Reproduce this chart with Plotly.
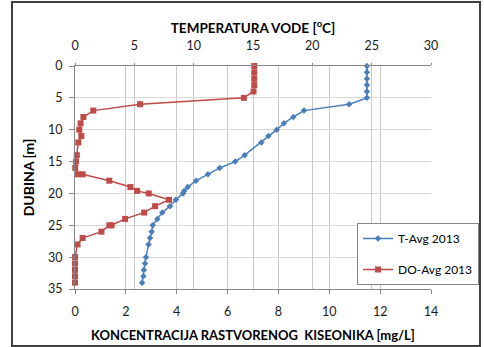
import plotly.graph_objects as go

# Temperature profile
t_depth = [0, 1, 2, 3, 4, 5, 6, 7, 8, 9, 10, 11, 12, 14, 15, 16, 17, 18, 19, 19.6, 20,
           21, 22, 23, 24, 25, 26, 27, 28, 30, 31, 32, 33, 34]
t_vals = [24.6, 24.6, 24.6, 24.6, 24.6, 24.6, 23.1, 19.3, 18.4, 17.6, 17.0, 16.3, 15.7, 14.3,
          13.5, 12.2, 11.2, 10.2, 9.5, 9.2, 9.1, 8.5, 8.0, 7.36, 6.94, 6.55, 6.46, 6.32, 6.2,
          5.98, 5.9, 5.8, 5.76, 5.65]

# Dissolved oxygen profile
do_depth = [0, 1, 2, 3, 4, 5, 6, 7, 8, 9, 10, 11, 12, 14, 15, 16, 17, 17, 18, 19, 19.6, 20,
            21, 22, 23, 24, 25, 25, 26, 27, 28, 30, 31, 32, 33, 34]
do_vals = [7.05, 7.05, 7.05, 7.05, 7.02, 6.64, 2.56, 0.72, 0.33, 0.22, 0.17, 0.25, 0.13, 0.07,
           0.04, 0.01, 0.12, 0.30, 1.35, 2.18, 2.44, 2.9, 3.7, 3.15, 2.72, 1.97, 1.44, 1.35,
           1.04, 0.3, 0.1, 0.0, 0.0, 0.0, 0.0, 0.0]

do_ticks = [0, 2, 4, 6, 8, 10, 12, 14]
t_ticks = [0, 5, 10, 15, 20, 25, 30]
depth_ticks = [0, 5, 10, 15, 20, 25, 30, 35]

BLUE = "#4A7EBB"
RED = "#BE4B48"
FONT = "Lato"

fig = go.Figure()
fig.add_trace(go.Scatter(
    x=t_vals, y=t_depth, xaxis="x2", yaxis="y", name="T-Avg 2013",
    mode="lines+markers", legendgroup="a",
    line=dict(color=BLUE, width=1.5),
    marker=dict(symbol="diamond", size=5, color=BLUE),
    cliponaxis=False,
))
fig.add_trace(go.Scatter(
    x=do_vals, y=do_depth, xaxis="x", yaxis="y", name="DO-Avg 2013",
    mode="lines+markers", legendgroup="b",
    line=dict(color=RED, width=1.5),
    marker=dict(symbol="square", size=6, color=RED),
    cliponaxis=False,
))

W, H = 484, 347
L, R, T, B = 75, 53, 66, 58
pw, ph = W - L - R, H - T - B

def px(x):
    return (x - L) / pw

def py(y):
    return (H - B - y) / ph

axis_font = dict(family=FONT, size=12.5, color="#1a1a1a")

fig.update_layout(
    width=W, height=H,
    margin=dict(l=L, r=R, t=T, b=B, autoexpand=False),
    paper_bgcolor="white", plot_bgcolor="white",
    font=dict(family=FONT),
    showlegend=True,
    xaxis=dict(
        range=[0, 14], tickvals=do_ticks, side="bottom", automargin=False,
        showgrid=True, gridcolor="#C8C8C8", gridwidth=1,
        showline=True, linecolor="#868686", linewidth=1,
        ticks="outside", ticklen=4, tickcolor="#868686",
        tickfont=axis_font, zeroline=False, ticklabelstandoff=7,
        title=dict(text="<b>KONCENTRACIJA RASTVORENOG  KISEONIKA [mg/L]</b>",
                   font=dict(family=FONT, size=13, color="#000"), standoff=12),
    ),
    xaxis2=dict(
        range=[0, 30], tickvals=t_ticks, side="top", overlaying="x", automargin=False,
        showgrid=True, gridcolor="#C8C8C8", gridwidth=1,
        showline=True, linecolor="#868686", linewidth=1,
        ticks="outside", ticklen=2, tickcolor="#868686",
        tickfont=axis_font, zeroline=False, ticklabelstandoff=8,
        title=dict(text="<b>TEMPERATURA VODE [<sup>o</sup>C]</b>",
                   font=dict(family=FONT, size=13.5, color="#000"), standoff=1),
    ),
    yaxis=dict(
        range=[35, 0], tickvals=depth_ticks, automargin=False,
        showgrid=True, gridcolor="#D9D9D9", gridwidth=1,
        showline=True, linecolor="#868686", linewidth=1,
        ticks="outside", ticklen=5, tickcolor="#868686",
        tickfont=axis_font, zeroline=False, ticklabelstandoff=4,
        title=dict(text="<b>DUBINA [m]</b>", font=dict(family=FONT, size=14, color="#000"),
                   standoff=10),
    ),
    legend=dict(
        x=px(357), y=py(223), xanchor="left", yanchor="top",
        bgcolor="white", bordercolor="#868686", borderwidth=1,
        font=dict(family=FONT, size=12, color="#000"),
        tracegroupgap=12, traceorder="grouped", itemwidth=30,
    ),
    shapes=[dict(
        type="rect", xref="paper", yref="paper",
        x0=px(12), x1=px(480), y0=py(346), y1=py(2),
        line=dict(color="#404040", width=2), fillcolor="rgba(0,0,0,0)",
    )],
)

fig.write_html("out.html")
